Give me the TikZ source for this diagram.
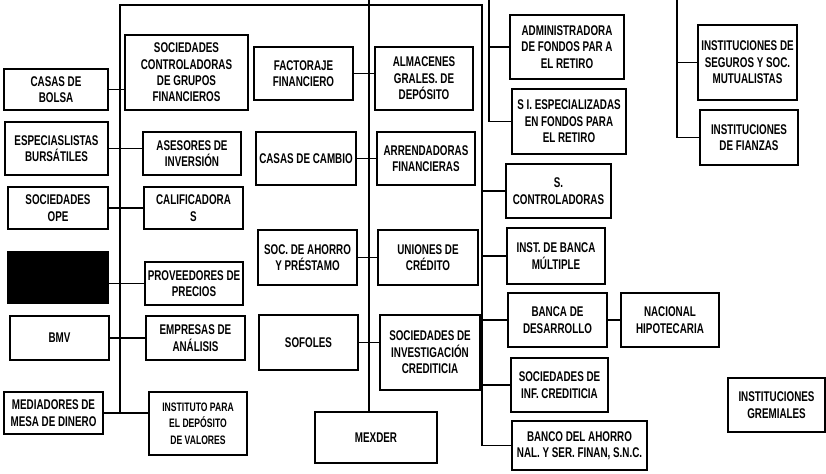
\documentclass[tikz,border=0pt]{standalone}
\usepackage{fontspec}
\setmainfont{Liberation Sans}[FakeStretch=0.7]

\begin{document}
\begin{tikzpicture}[x=0.03cm,y=-0.03cm,line width=1.1pt,
  every node/.style={font=\fontsize{12}{14}\selectfont\bfseries},
  ent/.style 2 args={draw,align=center,inner sep=1pt,minimum width=#1*0.03cm,minimum height=#2*0.03cm}]
\useasboundingbox (0,0) rectangle (826,474);

\node[ent={104}{41}] (casas) at (56,89.5) {CASAS DE\\BOLSA};
\node[ent={103}{53}] (espec) at (56.5,148.5) {ESPECIASLISTAS\\BURSÁTILES};
\node[ent={100}{42}] (ope) at (58,208) {SOCIEDADES\\OPE};
\node[ent={100}{51},fill=black] (blk) at (58,277.5) {};
\node[ent={99}{44}] (bmv) at (59.5,338) {BMV};
\node[ent={99}{42}] (mediad) at (53.5,413) {MEDIADORES DE\\MESA DE DINERO};

\node[ent={123}{75}] (socctrl) at (186.5,72.5) {SOCIEDADES\\CONTROLADORAS\\DE GRUPOS\\FINANCIEROS};
\node[ent={98}{43}] (asesores) at (192,153.5) {ASESORES DE\\INVERSIÓN};
\node[ent={99}{42}] (calif) at (193.5,208) {CALIFICADORA\\S};
\node[ent={98}{43}] (proveed) at (194,283.5) {PROVEEDORES DE\\PRECIOS};
\node[ent={99}{44}] (empresas) at (195.5,338) {EMPRESAS DE\\ANÁLISIS};
\node[ent={98}{63},font=\fontsize{10.5}{14}\selectfont\bfseries] (indeval) at (198,423.5) {INSTITUTO PARA\\EL DEPÓSITO\\DE VALORES};

\node[ent={99}{53}] (factoraje) at (303.5,73.5) {FACTORAJE\\FINANCIERO};
\node[ent={100}{53}] (cambio) at (306,158.5) {CASAS DE CAMBIO};
\node[ent={99}{55}] (ahorro) at (307.5,257.5) {SOC. DE AHORRO\\Y PRÉSTAMO};
\node[ent={99}{55}] (sofoles) at (308.5,342.5) {SOFOLES};
\node[ent={122}{51}] (mexder) at (376,437.5) {MEXDER};

\node[ent={98}{63}] (almacenes) at (424,78.5) {ALMACENES\\GRALES. DE\\DEPÓSITO};
\node[ent={98}{53}] (arrend) at (426,158.5) {ARRENDADORAS\\FINANCIERAS};
\node[ent={100}{55}] (uniones) at (428,257.5) {UNIONES DE\\CRÉDITO};
\node[ent={100}{75}] (sic) at (430,352.5) {SOCIEDADES DE\\INVESTIGACIÓN\\CREDITICIA};

\node[ent={114}{64}] (afore) at (567,47) {ADMINISTRADORA\\DE FONDOS PAR A\\EL RETIRO};
\node[ent={114}{65}] (siefore) at (569,121.5) {S I. ESPECIALIZADAS\\EN FONDOS PARA\\EL RETIRO};
\node[ent={105}{54}] (sctrl) at (558.5,191) {S.\\CONTROLADORAS};
\node[ent={98}{56}] (banca) at (556,256) {INST. DE BANCA\\MÚLTIPLE};
\node[ent={99}{54}] (desarr) at (557.5,320) {BANCA DE\\DESARROLLO};
\node[ent={98}{54}] (hipot) at (670,320) {NACIONAL\\HIPOTECARIA};
\node[ent={97}{54}] (infcred) at (559.5,385) {SOCIEDADES DE\\INF. CREDITICIA};
\node[ent={135}{49}] (bansefi) at (579.5,445.5) {BANCO DEL AHORRO\\NAL. Y SER. FINAN, S.N.C.};

\node[ent={99}{75}] (seguros) at (747.5,62.5) {INSTITUCIONES DE\\SEGUROS Y SOC.\\MUTUALISTAS};
\node[ent={98}{55}] (fianzas) at (749,137.5) {INSTITUCIONES\\DE FIANZAS};
\node[ent={97}{54},font=\fontsize{12}{15}\selectfont\bfseries] (gremiales) at (776.5,405) {INSTITUCIONES\\GREMIALES};

\coordinate (ltop) at (120,5);
\coordinate (rtop) at (482,5);
\coordinate (mtop) at (369,0);
\coordinate (afo) at (489,0);
\coordinate (seg) at (677,0);

\draw (mediad.east -| ltop) -- (ltop) -- (rtop) |- (bansefi.west);
\draw (casas.east) -- (casas.east -| socctrl.west);
\draw (espec.east) -- (espec.east -| asesores.west);
\draw (ope.east) -- (ope.east -| calif.west);
\draw (proveed.west -| blk.east) -- (proveed.west);
\draw (bmv.east) -- (bmv.east -| empresas.west);
\draw (mediad.east) -- (mediad.east -| indeval.west);

\draw (mtop) -- (mtop |- mexder.north);
\draw (factoraje.east) -- (factoraje.east -| almacenes.west);
\draw (cambio.east) -- (cambio.east -| arrend.west);
\draw (ahorro.east) -- (ahorro.east -| uniones.west);
\draw (sofoles.east) -- (sofoles.east -| sic.west);

\draw (afo) |- (siefore.west);
\draw (afo |- afore.west) -- (afore.west);
\foreach \n in {sctrl,banca,desarr,infcred}
  \draw (rtop |- \n.west) -- (\n.west);
\draw (desarr) -- (hipot);

\draw (seg) |- (fianzas.west);
\draw (seg |- seguros.west) -- (seguros.west);
\end{tikzpicture}
\end{document}
